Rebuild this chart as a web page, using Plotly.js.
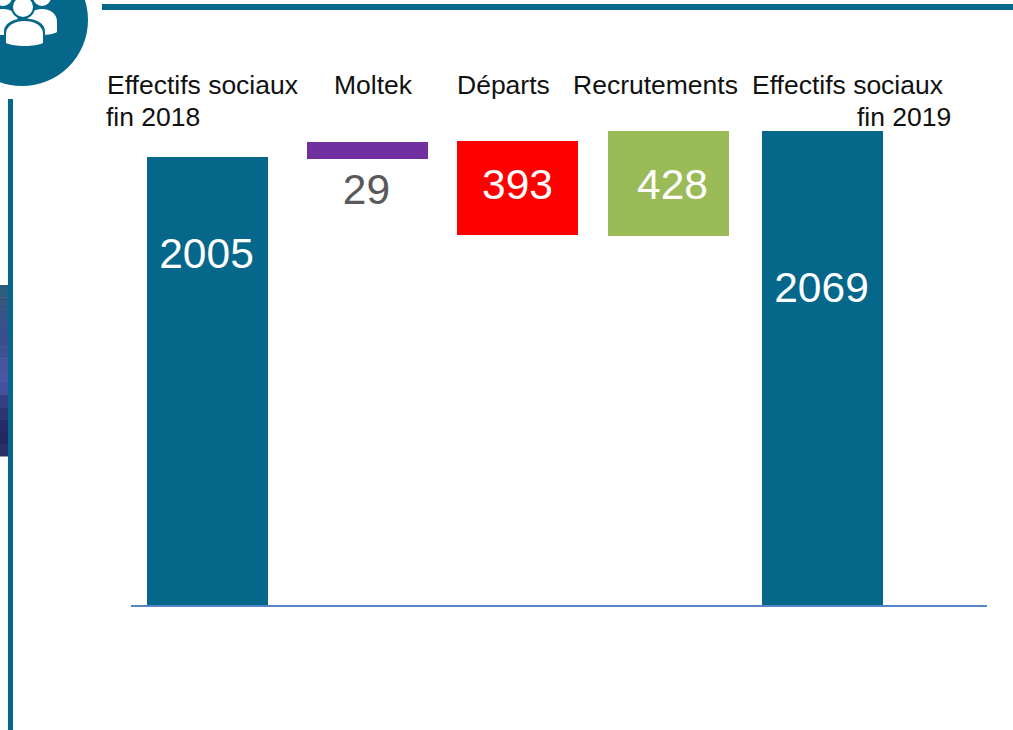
<!DOCTYPE html>
<html><head><meta charset="utf-8">
<script src="https://cdn.plot.ly/plotly-3.0.1.min.js"></script>
<style>html,body{margin:0;padding:0;background:#fff;overflow:hidden}</style>
</head><body><div id="chart" style="width:1013px;height:730px"></div>
<script>
// printed values and the extents of the bars as drawn in the picture (the picture is not to scale)
const valueLabels = ['2005','29','393','428','2069'];
const barBottoms = [0,1947,1615,1611,0];
const barTops = [1955,2021,2025,2069,2069];
const barSlots = [76.5,236.5,386.5,537.5,691.5];
const barColors = ['#05678A','#7030A0','#FF0000','#9BBB59','#05678A'];
const labelSlots = [75.5,235.5,386.5,541.5,690.5];
const labelLevels = [1518,1795,1818,1818,1368];
const labelColors = ['#fff','#595959','#fff','#fff','#fff'];
const categoryLines = [
 {text:'Effectifs sociaux', px:107, py:85},
 {text:'fin 2018', px:106, py:117},
 {text:'Moltek', px:334, py:85},
 {text:'Départs', px:457, py:85},
 {text:'Recrutements', px:573, py:85},
 {text:'Effectifs sociaux', px:752, py:85},
 {text:'fin 2019', px:857, py:117}
];
const gradientStops = ['#2E5C7C','#33577F','#365487','#3A508C','#3C4E8E','#3F5095','#46559E','#4A58A3','#43509B','#363F83','#2C3472','#272C68','#232860','#2A3063'];

const L=131,T=100,W=856,H=505;
const fx=p=>(p-L)/W, fy=p=>(T+H-p)/H;
const TEAL='#05678A';
const rect=(x0,y0,x1,y1,c)=>({type:'rect',xref:'paper',yref:'paper',x0:fx(x0),x1:fx(x1),y0:fy(y1),y1:fy(y0),fillcolor:c,line:{width:0},layer:'below'});
const circle=(cx,cy,r,c)=>({type:'circle',xref:'paper',yref:'paper',x0:fx(cx-r),x1:fx(cx+r),y0:fy(cy+r),y1:fy(cy-r),fillcolor:c,line:{width:0},layer:'below'});
const path=(segs,c)=>({type:'path',xref:'paper',yref:'paper',fillcolor:c,line:{width:0},layer:'below',
  path:segs.map(s=>s[0]+s.slice(1).map((v,i)=>i%2?fy(v):fx(v)).join(' ')).join(' ')+' Z'});
const body=(x0,x1,top,bottom)=>{const m=(x0+x1)/2,w=x1-x0;return [['M',x0,bottom-3],['L',x0,top+13],['C',x0,top+4,m-w*0.25,top,m,top],['C',m+w*0.25,top,x1,top+4,x1,top+13],['L',x1,bottom-3],['C',x1-w*0.2,bottom+1,x0+w*0.2,bottom+1,x0,bottom-3]];};

const shapes=[
 rect(102,4,1013,10,TEAL),
 rect(8,99,13,730,TEAL),
 circle(22,20,66,TEAL),
 circle(42,-3,9,'#fff'),
 circle(3,-3,9,'#fff'),
 path(body(27,57,9,35),'#fff'),
 path(body(-12,18,9,35),'#fff'),
 circle(23,7,12,TEAL),
 circle(23,7,10,'#fff'),
 path(body(4,45,18.5,48),TEAL),
 path(body(6,43,21,46),'#fff')
];
gradientStops.forEach((c,i)=>{const h=171/gradientStops.length;shapes.push(rect(0,285+i*h,8,285+(i+1)*h+0.5,c));});

const annotations=categoryLines.map(l=>({text:l.text,xref:'paper',yref:'paper',x:fx(l.px),y:fy(l.py),xanchor:'left',yanchor:'middle',showarrow:false,font:{size:26.5,color:'#111',family:'"Liberation Sans",Arial,sans-serif'},xshift:-2}));

Plotly.newPlot('chart',[
 {type:'bar',x:barSlots,y:barTops.map((t,i)=>t-barBottoms[i]),base:barBottoms,width:valueLabels.map(()=>121),marker:{color:barColors,line:{width:0}},hoverinfo:'skip'},
 {type:'scatter',mode:'text',x:labelSlots,y:labelLevels,text:valueLabels,textposition:'middle center',textfont:{size:42.5,color:labelColors,family:'"Liberation Sans",Arial,sans-serif'},hoverinfo:'skip'}
],{
 width:1013,height:730,margin:{l:L,t:T,r:1013-L-W,b:730-T-H,pad:0},
 paper_bgcolor:'#fff',plot_bgcolor:'rgba(0,0,0,0)',showlegend:false,
 xaxis:{range:[0,W],showgrid:false,zeroline:false,showticklabels:false,ticks:'',showline:true,linecolor:'#5585C5',linewidth:2,fixedrange:true},
 yaxis:{range:[0,H/0.2291],showgrid:false,zeroline:false,showticklabels:false,ticks:'',showline:false,fixedrange:true},
 shapes,annotations
},{displayModeBar:false,staticPlot:true});
</script></body></html>
